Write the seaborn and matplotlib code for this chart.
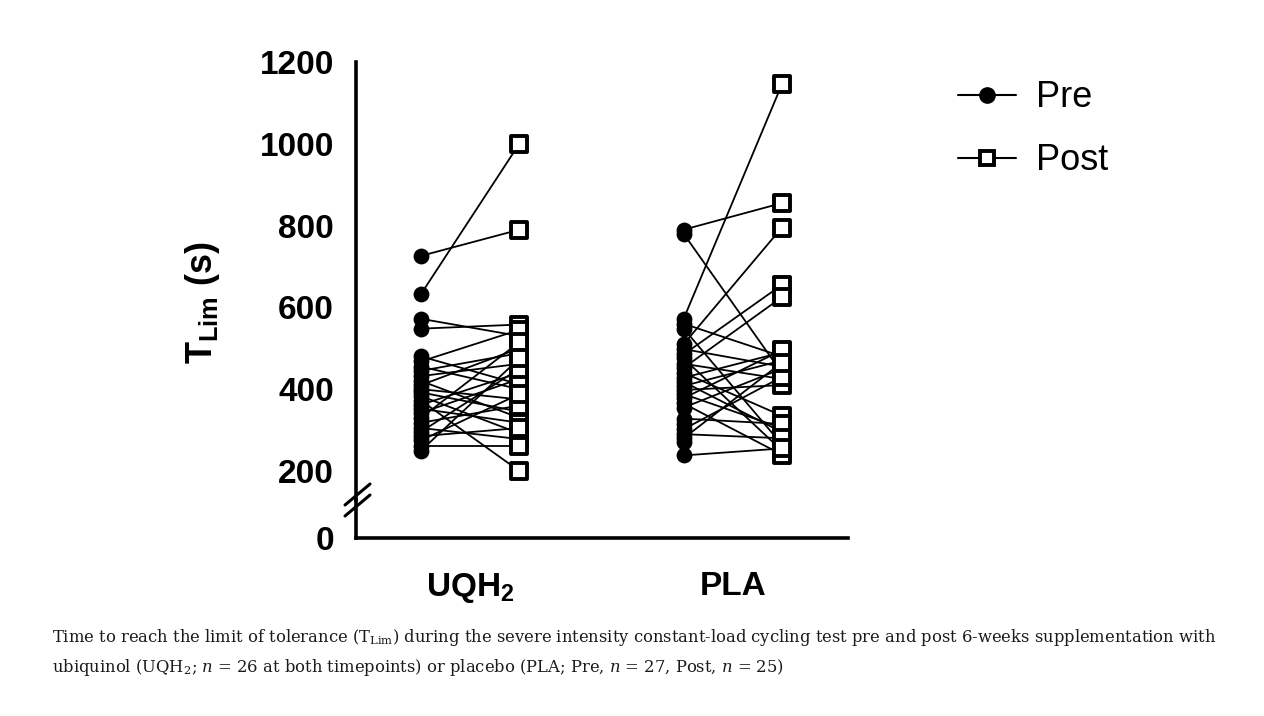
import numpy as np
import pandas as pd
import matplotlib.pyplot as plt
import seaborn as sns
from matplotlib.lines import Line2D

# values (seconds)
groups = ['UQH2', 'PLA']
group_labels = [r'$\mathbf{UQH_2}$', 'PLA']

uqh_pre = [726, 633, 572, 548, 480, 468, 455, 445, 432, 420, 410, 400, 392,
           383, 372, 362, 352, 342, 330, 318, 305, 296, 285, 275, 262, 250]
uqh_post = [790, 1000, 530, 558, 412, 545, 400, 488, 462, 330, 500, 375, 345,
            292, 200, 440, 318, 425, 515, 360, 278, 450, 305, 388, 262, 475]

pla_pre = [790, 780, 572, 560, 548, 510, 498, 485, 475, 462, 452, 440, 428, 418,
           408, 398, 388, 378, 365, 355, 328, 315, 302, 290, 280, 272, 238]
pla_post = [855, 440, 1145, 480, 265, 795, 455, 655, 250, 425, 625, 335, 490, 295,
            470, 410, 305, 495, 240, 450, 315, np.nan, 430, 280, 465, np.nan, 255]

y_ticks = [200, 400, 600, 800, 1000, 1200]

# long table
rows = []
for g, pre, post in [('UQH2', uqh_pre, uqh_post), ('PLA', pla_pre, pla_post)]:
    for i, (a, b) in enumerate(zip(pre, post)):
        rows.append(dict(group=g, pid=f'{g}{i}', time='Pre', value=a))
        if not np.isnan(b):
            rows.append(dict(group=g, pid=f'{g}{i}', time='Post', value=b))
df = pd.DataFrame(rows)
offset = {'Pre': -0.187, 'Post': 0.187}
df['x'] = df['group'].map({g: i for i, g in enumerate(groups)}) + df['time'].map(offset)

sns.set_style('white')
plt.rcParams['font.family'] = ['Liberation Sans', 'DejaVu Sans']
plt.rcParams['mathtext.fontset'] = 'custom'
plt.rcParams['mathtext.rm'] = 'DejaVu Serif'
plt.rcParams['mathtext.it'] = 'DejaVu Serif:italic'
plt.rcParams['mathtext.bf'] = 'Liberation Sans:bold'
for k in ['text.color', 'axes.labelcolor', 'xtick.color', 'ytick.color', 'axes.edgecolor']:
    plt.rcParams[k] = 'black'

W, H = 1264, 716
fig = plt.figure(figsize=(W / 100, H / 100), dpi=100)
fig.patch.set_facecolor('white')

def fx(px):
    return px / W

def fy(py):
    return 1 - py / H

x0, x1 = 356, 848
ax = fig.add_axes([fx(x0), fy(500), fx(x1 - x0), fy(62) - fy(500)])
axb = fig.add_axes([fx(x0), fy(538), fx(x1 - x0), fy(500) - fy(538)], sharex=ax)

sns.lineplot(data=df, x='x', y='value', units='pid', estimator=None,
             color='black', lw=1.3, ax=ax, legend=False)
pre = df[df['time'] == 'Pre']
post = df[df['time'] == 'Post']
sns.scatterplot(data=pre, x='x', y='value', marker='o', s=130, color='black',
                edgecolor='black', linewidth=0, ax=ax, zorder=3, legend=False)
sns.scatterplot(data=post, x='x', y='value', marker='s', s=120, color='white',
                edgecolor='black', linewidth=2.8, ax=ax, zorder=4, legend=False)

ax.set_xlim(-0.435, 1.439)
ax.set_ylim(129, 1200)
ax.set_yticks(y_ticks)
ax.set_yticklabels([str(t) for t in y_ticks])
ax.set_xlabel('')
ax.set_ylabel('')
for s in ['top', 'right', 'bottom']:
    ax.spines[s].set_visible(False)
ax.spines['left'].set_linewidth(2.6)
ax.tick_params(axis='y', length=14, width=2.6, labelsize=24, pad=2)
ax.tick_params(axis='x', bottom=False, labelbottom=False)
for lab in ax.get_yticklabels():
    lab.set_fontweight('bold')

axb.set_ylim(0, 100)
axb.set_yticks([0])
axb.set_yticklabels(['0'])
for s in ['top', 'right']:
    axb.spines[s].set_visible(False)
axb.spines['left'].set_linewidth(2.6)
axb.spines['bottom'].set_linewidth(2.6)
axb.set_xticks(range(len(groups)))
axb.set_xticklabels(group_labels)
axb.tick_params(axis='y', length=14, width=2.6, labelsize=24, pad=2)
axb.tick_params(axis='x', direction='out', length=12, width=2.6, labelsize=24, pad=12)
for lab in axb.get_yticklabels() + axb.get_xticklabels():
    lab.set_fontweight('bold')
axb.set_facecolor('none')

# axis break marks
for dy in (0, 11):
    fig.add_artist(Line2D([fx(345), fx(370)], [fy(505 + dy), fy(484 + dy)],
                          color='black', lw=2.2, transform=fig.transFigure))

fig.text(fx(203), fy(303), r'$\mathbf{T_{Lim}}$ (s)', rotation=90, fontsize=26,
         fontweight='bold', ha='center', va='center')

handles = [
    Line2D([], [], color='black', lw=1.5, marker='o', markersize=11),
    Line2D([], [], color='black', lw=1.5, marker='s', markersize=10,
           markerfacecolor='white', markeredgewidth=2.8),
]
fig.legend(handles, ['Pre', 'Post'], loc='upper left',
           bbox_to_anchor=(fx(933), fy(55)), frameon=False, fontsize=26,
           handlelength=1.6, handletextpad=0.55, labelspacing=0.78, numpoints=1,
           borderpad=0.2)

cap_kw = dict(fontsize=11.8, family='DejaVu Serif', color='#1a1a1a')
fig.text(fx(52), fy(637), r'Time to reach the limit of tolerance ($\mathrm{T_{Lim}}$) during the severe '
         r'intensity constant-load cycling test pre and post 6-weeks supplementation with',
         va='center', **cap_kw)
fig.text(fx(52), fy(668), r'ubiquinol ($\mathrm{UQH_2}$; $n$ = 26 at both timepoints) or placebo '
         r'(PLA; Pre, $n$ = 27, Post, $n$ = 25)', va='center', **cap_kw)

fig.savefig('out.png', dpi=100, facecolor='white')
